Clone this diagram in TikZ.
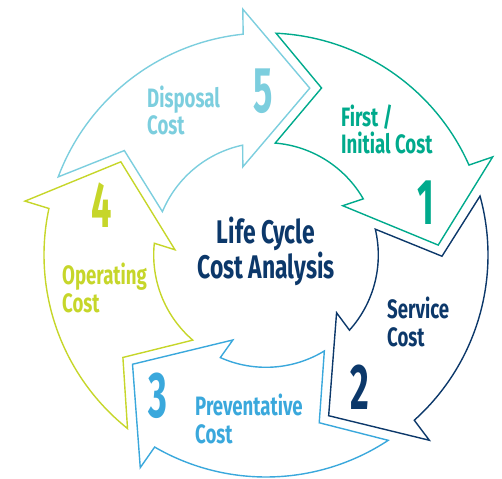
\documentclass[tikz,border=0pt]{standalone}
\usepackage{fontspec}
\setmainfont{Fira Sans}
\newfontfamily\labfont{Fira Sans}[FakeStretch=0.70]
\newfontfamily\numfont{Fira Sans}[FakeStretch=0.56]
\usetikzlibrary{calc}
\definecolor{cFirst}{RGB}{0,170,140}
\definecolor{cServ}{RGB}{12,56,106}
\definecolor{cPrev}{RGB}{58,168,220}
\definecolor{cOper}{RGB}{198,214,42}
\definecolor{cDisp}{RGB}{124,206,222}
\begin{document}
\begin{tikzpicture}[x=1pt,y=-1pt,
  arrowline/.style={line width=1.4pt, line join=miter, miter limit=10},
  lbl/.style={font=\labfont\bfseries\fontsize{26.6}{27.5}\selectfont, align=left, anchor=base west, inner sep=0pt},
  num/.style={font=\numfont\bfseries\fontsize{64.6}{66}\selectfont, anchor=base, inner sep=0pt},
  ttl/.style={font=\labfont\bfseries\fontsize{32.7}{33}\selectfont, align=center, anchor=base, inner sep=0pt, text=cServ}]
\useasboundingbox (0,0) rectangle (502,478);
\coordinate (C) at (266,255);
\foreach \b/\col in {200.6/cDisp, 272.6/cFirst, 344.6/cServ, 416.6/cPrev, 488.6/cOper}{
  \draw[arrowline, \col] ($(C)+(\b:222)$) arc[start angle=\b, end angle=\b+63.5, radius=222]
    -- ($(C)+(\b+64:247)$) -- ($(C)+(\b+84.1:172.5)$) -- ($(C)+(\b+54.7:91.2)$)
    -- ($(C)+(\b+57.4:112.3)$) arc[start angle=\b+57.4, end angle=\b+2.1, radius=112.3]
    -- ($(C)+(\b+15.8:176)$) -- cycle;
}
\node[ttl] (title) at (266,278) {Life Cycle\\Cost Analysis};
\node[lbl, text=cDisp] (ldisp) at (147,135) {Disposal\\Cost};
\node[lbl, text=cFirst] (lfirst) at (341,154) {First /\\Initial Cost};
\node[lbl, text=cServ] (lserv) at (387,346) {Service\\Cost};
\node[lbl, text=cPrev] (lprev) at (195,443) {Preventative\\Cost};
\node[lbl, text=cOper] (loper) at (62,312) {Operating\\Cost};
\node[num, text=cDisp] (n5) at (263,113) {5};
\node[num, text=cFirst] (n1) at (426,224) {1};
\node[num, text=cServ] (n2) at (360,409) {2};
\node[num, text=cPrev] (n3) at (158,417) {3};
\node[num, text=cOper] (n4) at (102,227) {4};
\end{tikzpicture}
\end{document}
